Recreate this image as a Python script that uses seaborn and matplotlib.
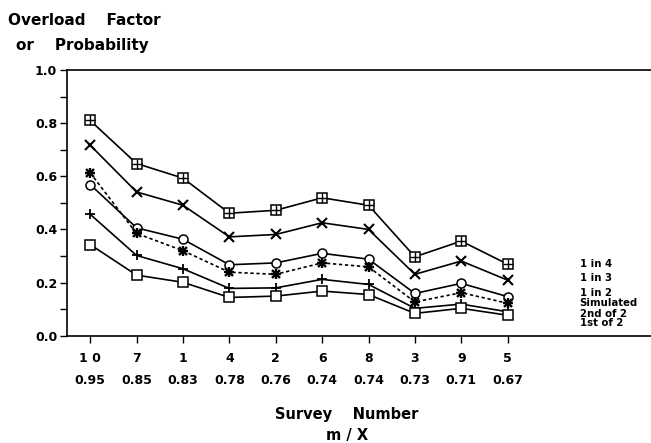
import matplotlib
matplotlib.use("Agg")
import matplotlib.pyplot as plt
import seaborn as sns
import numpy as np

sns.set_style("ticks")
plt.rcParams["font.family"] = ["DejaVu Sans"]
plt.rcParams["font.weight"] = "bold"
plt.rcParams["text.color"] = "black"
plt.rcParams["xtick.color"] = "black"
plt.rcParams["ytick.color"] = "black"
plt.rcParams["axes.edgecolor"] = "black"

surveys = ["1 0", "7", "1", "4", "2", "6", "8", "3", "9", "5"]
m_over_x = ["0.95", "0.85", "0.83", "0.78", "0.76", "0.74", "0.74", "0.73", "0.71", "0.67"]

one_in_4 = [0.810, 0.648, 0.593, 0.461, 0.472, 0.519, 0.491, 0.297, 0.356, 0.269]
one_in_3 = [0.717, 0.541, 0.491, 0.372, 0.381, 0.425, 0.400, 0.231, 0.281, 0.209]
one_in_2 = [0.569, 0.406, 0.363, 0.267, 0.274, 0.310, 0.288, 0.159, 0.197, 0.147]
simulated = [0.613, 0.385, 0.320, 0.239, 0.231, 0.274, 0.259, 0.127, 0.162, 0.122]
second_of_2 = [0.457, 0.302, 0.252, 0.178, 0.180, 0.212, 0.193, 0.103, 0.119, 0.090]
first_of_2 = [0.343, 0.228, 0.201, 0.144, 0.149, 0.168, 0.155, 0.084, 0.103, 0.077]

series_labels = ["1 in 4", "1 in 3", "1 in 2", "Simulated", "2nd of 2", "1st of 2"]
label_y = [0.270, 0.218, 0.162, 0.124, 0.083, 0.047]

fig = plt.figure(figsize=(6.51, 4.43), dpi=100)
ax = fig.add_axes([0.1029, 0.2422, 0.8971, 0.5998])

x = np.arange(len(surveys))
lw = 1.2

def draw(vals, marker, size, ls="-", mew=1.1, face="white", overlay=None):
    sns.lineplot(x=x, y=vals, ax=ax, color="black", linewidth=lw, linestyle=ls,
                 marker=marker, markersize=size, markerfacecolor=face,
                 markeredgecolor="black", markeredgewidth=mew, zorder=3)
    if overlay is not None:
        m, s, w = overlay
        sns.lineplot(x=x, y=vals, ax=ax, color="black", linestyle="",
                     marker=m, markersize=s, markeredgecolor="black",
                     markeredgewidth=w, zorder=4)

# boxed-plus markers
draw(one_in_4, "s", 6.5, overlay=("+", 6.5, 1.0))
# crosses
draw(one_in_3, "x", 7, mew=1.5)
# open circles
draw(one_in_2, "o", 6.5)
# asterisks on a dotted line
draw(simulated, "x", 5.5, ls=(0, (2, 1.6)), mew=1.7, overlay=("+", 6.5, 1.7))
# plus signs
draw(second_of_2, "+", 7.5, mew=1.3)
# open squares
draw(first_of_2, "s", 6.5)

for lab, yy in zip(series_labels, label_y):
    ax.text(10.55, yy, lab, fontsize=7.3, fontweight="bold", va="center", ha="left")

ax.set_xlim(-0.5, 12.09)
ax.set_ylim(0, 1.0)
ax.set_yticks(np.arange(0, 1.01, 0.2))
ax.set_yticks(np.arange(0.1, 1.0, 0.2), minor=True)
ax.set_yticklabels([f"{v:.1f}" for v in np.arange(0, 1.01, 0.2)], fontsize=9, fontweight="bold")
ax.set_xticks(x)
ax.set_xticklabels([f"{s}\n{m}" for s, m in zip(surveys, m_over_x)],
                   fontsize=9, fontweight="bold", linespacing=1.85)
ax.tick_params(axis="y", which="both", direction="out", length=5, width=1, pad=2)
ax.tick_params(axis="x", direction="out", length=5, width=1, pad=7)
ax.set_xlabel("")
ax.set_ylabel("")

for side in ["left", "bottom", "top"]:
    ax.spines[side].set_visible(True)
    ax.spines[side].set_linewidth(1.2)
ax.spines["right"].set_visible(False)

fig.text(0.012, 0.953, "Overload    Factor", fontsize=11, fontweight="bold", va="center", ha="left")
fig.text(0.024, 0.898, "or    Probability", fontsize=11, fontweight="bold", va="center", ha="left")
fig.text(0.533, 0.064, "Survey    Number", fontsize=10.5, fontweight="bold", va="center", ha="center")
fig.text(0.533, 0.018, "m / X", fontsize=10.5, fontweight="bold", va="center", ha="center")

fig.savefig("out.png", dpi=100)
